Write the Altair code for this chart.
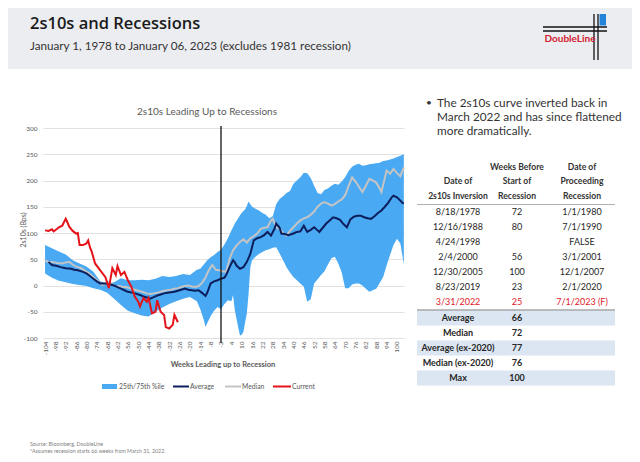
import altair as alt
import pandas as pd

# ---------------- data ----------------
band_weeks = [-104,-100,-96,-92,-88,-84,-80,-76,-72,-68,-64,-60,-56,-52,-48,-44,-40,-36,-32,-28,-24,-20,-16,-14,-12,-11,-10,-8,-6,-4,-2,0,2,4,5,6,8,9,10,11,12,13,14,15,16,18,20,22,24,26,28,30,32,34,36,38,40,42,44,46,48,50,52,54,56,58,60,62,64,66,68,70,72,74,76,78,80,82,84,86,88,90,92,94,96,98,100,102,104]
band_p75 = [77,71,65,59,48,42,36,26,8,4,6,14,10,10,11,10,13,18,16,18,22,20,30,32,40,44,48,54,58,64,68,78,90,105,111,118,128,134,138,142,145,152,160,155,150,146,143,138,135,128,132,155,165,170,176,180,194,200,206,215,214,205,190,176,174,182,185,190,194,192,198,206,218,226,230,232,228,229,231,232,233,234,237,238,240,242,245,247,250]
band_p25 = [23,15,9,6,3,1,-1,-5,-8,-14,-25,-37,-48,-53,-57,-59,-50,-42,-35,-30,-25,-22,-30,-45,-65,-79,-72,-58,-48,-41,-45,-35,-28,-30,-18,-47,-80,-95,-94,-88,-70,-53,-15,35,48,55,60,64,67,69,72,73,61,48,35,25,16,10,4,-2,-31,-26,4,12,20,27,40,52,55,42,25,-5,-5,2,4,4,0,-6,-12,-9,-6,5,16,38,58,77,89,80,40]

avg_weeks = [-102,-100,-97,-95,-92,-89,-87,-85,-82,-80,-78,-76,-74,-72,-69,-66,-64,-62,-60,-58,-56,-53,-51,-49,-47,-45,-43,-41,-39,-37,-35,-33,-31,-29,-27,-25,-23,-21,-19,-17,-15,-13,-11,-10,-8,-6,-4,-2,0,1,3,4,5,6,7,9,11,13,15,17,19,21,23,25,27,29,30,32,33,35,37,40,42,44,46,48,50,52,54,55,57,59,61,63,65,67,69,71,73,75,77,79,81,83,85,87,89,91,93,95,97,98,100,101,103,104]
avg_vals = [45,39,37,35,33,32,30,29,26,23,18,13,8,4,4,2,0,-3,-6,-9,-12,-14,-16,-18,-21,-23,-25,-22,-19,-17,-15,-14,-13,-12,-10,-8,-6,-8,-9,-10,-9,-14,-20,-14,4,8,10,13,15,20,35,42,48,44,38,32,35,45,60,86,90,92,96,102,95,108,118,110,99,98,96,99,102,103,114,102,106,111,105,102,110,118,124,130,128,125,117,111,126,131,133,133,130,128,127,132,138,143,150,158,168,171,168,165,158,156]

med_weeks = [-104,-102,-100,-97,-94,-92,-90,-88,-86,-83,-81,-79,-77,-75,-73,-71,-69,-67,-65,-63,-61,-59,-57,-55,-53,-51,-49,-47,-45,-43,-41,-39,-37,-35,-33,-31,-29,-27,-25,-23,-21,-19,-17,-15,-13,-11,-10,-8,-7,-5,-3,-1,1,3,5,7,9,11,13,15,17,19,21,23,25,27,28,30,32,34,36,38,40,42,44,46,48,50,52,54,56,58,60,62,64,66,68,70,72,74,76,78,80,82,84,86,88,90,91,93,94,96,98,100,102,104]
med_vals = [48,45,45,43,42,44,45,40,36,33,28,24,19,13,8,1,3,7,2,-2,-1,-3,-3,-5,-7,-9,-11,-13,-15,-16,-15,-14,-12,-10,-9,-8,-6,-5,-3,-1,0,-2,-3,-1,5,15,23,35,39,30,29,27,26,51,67,76,83,88,82,90,94,99,108,110,111,124,127,111,108,100,95,104,111,118,124,128,130,135,141,150,156,159,156,152,155,160,164,172,190,206,198,188,178,190,203,200,196,185,178,205,219,213,222,214,208,225]

cur_weeks = [-104,-102,-100,-99,-97,-96,-94,-93,-92,-91,-90,-88,-86,-85,-84,-82,-80,-79,-78,-77,-75,-72,-69,-67,-65,-63,-62,-60,-58,-56,-54,-52,-50,-49,-47,-45,-44,-42,-40,-39,-37,-35,-34,-32,-30,-29,-27]
cur_vals = [105,104,107,103,108,111,114,121,127,120,112,104,99,100,77,77,80,86,73,65,42,29,16,-5,33,20,37,20,26,10,-2,-21,-31,-40,-24,-31,-24,-53,-50,-28,-50,-56,-79,-82,-75,-56,-70]

inversion_week = [-2]
x_tick_values = list(range(-104, 101, 6))
y_tick_values = [-100, -50, 0, 50, 100, 150, 200, 250, 300]

legend_labels = ["25th/75th %ile", "Average", "Median", "Current"]

bullet_lines = ["The 2s10s curve inverted back in",
                "March 2022 and has since flattened",
                "more dramatically."]
inv_dates = ["8/18/1978", "12/16/1988", "4/24/1998", "2/4/2000", "12/30/2005", "8/23/2019", "3/31/2022"]
weeks_before = ["72", "80", "", "56", "100", "23", "25"]
rec_dates = ["1/1/1980", "7/1/1990", "FALSE", "3/1/2001", "12/1/2007", "2/1/2020", "7/1/2023 (F)"]
stat_labels = ["Average", "Median", "Average (ex-2020)", "Median (ex-2020)", "Max"]
stat_values = ["66", "72", "77", "76", "100"]

# ---------------- layout helpers ----------------
OX, OY = 43, 128      # page position of plot origin
W, H = 361, 210
PAGE_W, PAGE_H = 624, 446

def P(X):
    return X - OX

def Q(Y):
    return Y - OY

one = alt.Data(values=[{"k": 0}])

def txt(s, X, Y, size=9, color="#262626", weight="normal", align="left",
        font="Lato", angle=0):
    return alt.Chart(one).mark_text(
        text=s, fontSize=size, color=color, fontWeight=weight, align=align,
        baseline="middle", font=font, angle=angle
    ).encode(x=alt.value(P(X)), y=alt.value(Q(Y)))

def rect(x1, y1, x2, y2, color):
    return alt.Chart(one).mark_rect(color=color).encode(
        x=alt.value(P(x1)), x2=alt.value(P(x2)),
        y=alt.value(Q(y1)), y2=alt.value(Q(y2)))

def hline(x1, x2, y, color, w=1.0):
    return alt.Chart(one).mark_rule(color=color, strokeWidth=w).encode(
        x=alt.value(P(x1)), x2=alt.value(P(x2)), y=alt.value(Q(y)), y2=alt.value(Q(y)))

def vline(x, y1, y2, color, w=1.0):
    return alt.Chart(one).mark_rule(color=color, strokeWidth=w).encode(
        x=alt.value(P(x)), x2=alt.value(P(x)), y=alt.value(Q(y1)), y2=alt.value(Q(y2)))

# ---------------- chart layers ----------------
band_df = pd.DataFrame({"week": band_weeks, "p25": band_p25, "p75": band_p75})
avg_df = pd.DataFrame({"week": avg_weeks, "v": avg_vals})
med_df = pd.DataFrame({"week": med_weeks, "v": med_vals})
cur_df = pd.DataFrame({"week": cur_weeks, "v": cur_vals})

xs = alt.Scale(domain=[-105.2, 104.1], nice=False, zero=False)
ys = alt.Scale(domain=[-100, 300], nice=False, zero=False)

band = alt.Chart(band_df).mark_area(color="#49A9F3", opacity=1).encode(
    x=alt.X("week:Q", scale=xs, title=None,
            axis=alt.Axis(values=x_tick_values, tickCount=len(x_tick_values) + 5,
                          labelAngle=270, labelAlign="right",
                          labelBaseline="middle", labelFontSize=6.5, labelColor="#595959",
                          labelFont="Lato", domain=False, ticks=False, grid=False,
                          labelPadding=3, labelOverlap=False, labelSeparation=0,
                          labelExpr="'' + datum.value")),
    y=alt.Y("p25:Q", scale=ys, title=None,
            axis=alt.Axis(values=y_tick_values, tickCount=len(y_tick_values) + 2,
                          grid=True, gridColor="#D9D9D9",
                          gridWidth=0.8, domain=False, ticks=False, labelFontSize=6.5,
                          labelColor="#595959", labelFont="Lato", labelPadding=6,
                          labelOverlap=False, labelExpr="'' + datum.value")),
    y2="p75:Q",
)

med = alt.Chart(med_df).mark_line(color="#C4C4C4", strokeWidth=2).encode(
    x=alt.X("week:Q", title=None), y=alt.Y("v:Q", title=None))
avg = alt.Chart(avg_df).mark_line(color="#0C1E5B", strokeWidth=2).encode(
    x=alt.X("week:Q", title=None), y=alt.Y("v:Q", title=None))
cur = alt.Chart(cur_df).mark_line(color="#E5141B", strokeWidth=2).encode(
    x=alt.X("week:Q", title=None), y=alt.Y("v:Q", title=None))

vrule = alt.Chart(pd.DataFrame({"week": inversion_week})).mark_rule(
    color="#111111", strokeWidth=1.3).encode(
    x=alt.X("week:Q", title=None), y=alt.value(-2), y2=alt.value(H + 5))

layers = []
# header band & logo
layers.append(rect(8, 8, 632, 69, "#ECEDF1"))
layers.append(txt("2s10s and Recessions", 30, 24, size=16.5, weight=600,
                  font="Open Sans", color="#1A1A1A"))
layers.append(txt("January 1, 1978 to January 06, 2023 (excludes 1981 recession)",
                  30, 46, size=11.7, color="#333333"))
layers.append(hline(543, 607, 27, "#111111", 1.3))
layers.append(hline(543, 607, 31, "#111111", 1.3))
layers.append(vline(594, 14, 60, "#111111", 1.3))
layers.append(vline(598, 14, 60, "#111111", 1.3))
layers.append(rect(599.5, 14, 606, 25.5, "#2283D9"))
layers.append(txt("DoubleLine", 570, 39, size=10, weight="bold", color="#D1202F",
                  align="center"))

# chart
layers += [band, med, avg, cur, vrule]
layers.append(txt("2s10s Leading Up to Recessions", 207, 112, size=10, color="#595959",
                  align="center"))
layers.append(txt("2s10s (Bps)", 24, 230, size=7, color="#595959", align="center",
                  angle=270))
layers.append(txt("Weeks Leading up to Recession", 223, 365, size=7.5, color="#595959",
                  weight="bold", align="center"))
# legend
layers.append(rect(102, 384, 117, 389, "#49A9F3"))
layers.append(txt(legend_labels[0], 119, 386.5, size=6.8, color="#595959"))
layers.append(hline(173, 189, 386.5, "#0C1E5B", 2))
layers.append(txt(legend_labels[1], 190, 386.5, size=6.8, color="#595959"))
layers.append(hline(225, 241, 386.5, "#C4C4C4", 2))
layers.append(txt(legend_labels[2], 242, 386.5, size=6.8, color="#595959"))
layers.append(hline(273, 291, 386.5, "#E5141B", 2))
layers.append(txt(legend_labels[3], 292, 386.5, size=6.8, color="#595959"))

# bullet text
layers.append(txt("\u2022", 426, 103, size=10, color="#333333"))
for i, s in enumerate(bullet_lines):
    layers.append(txt(s, 437, 103 + 14 * i, size=11.8, color="#333333"))

# table header
C1, C2, C3 = 458, 517, 582
hdr = "#333333"
layers.append(txt("Date of", C1, 181, size=8.6, weight="bold", color=hdr, align="center"))
layers.append(txt("2s10s Inversion", C1, 196, size=8.6, weight="bold", color=hdr, align="center"))
layers.append(txt("Weeks Before", C2, 167, size=8.6, weight="bold", color=hdr, align="center"))
layers.append(txt("Start of", C2, 181, size=8.6, weight="bold", color=hdr, align="center"))
layers.append(txt("Recession", C2, 196, size=8.6, weight="bold", color=hdr, align="center"))
layers.append(txt("Date of", C3, 167, size=8.6, weight="bold", color=hdr, align="center"))
layers.append(txt("Proceeding", C3, 181, size=8.6, weight="bold", color=hdr, align="center"))
layers.append(txt("Recession", C3, 196, size=8.6, weight="bold", color=hdr, align="center"))
layers.append(hline(417, 615, 204.5, "#9A9A9A", 0.8))

# shaded summary rows
for i in range(0, 5, 2):
    yc = 318 + 15 * i
    layers.append(rect(417, yc - 7.5, 615, yc + 7.5, "#DCE6F2"))
layers.append(hline(417, 615, 310, "#7F7F7F", 1.2))

for i in range(len(inv_dates)):
    yc = 212 + 15 * i
    col = "#E0202A" if i == len(inv_dates) - 1 else "#262626"
    layers.append(txt(inv_dates[i], C1, yc, size=9, color=col, align="center"))
    if weeks_before[i]:
        layers.append(txt(weeks_before[i], C2, yc, size=9, color=col, align="center"))
    layers.append(txt(rec_dates[i], C3, yc, size=9, color=col, align="center"))

for i in range(len(stat_labels)):
    yc = 318 + 15 * i
    layers.append(txt(stat_labels[i], C1, yc, size=9, weight="bold", align="center"))
    layers.append(txt(stat_values[i], C2, yc, size=9, weight="bold", align="center"))

# footnotes
layers.append(txt("Source: Bloomberg, DoubleLine", 30, 444, size=5.3, color="#7F7F7F"))
layers.append(txt("*Assumes recession starts 66 weeks from March 31, 2022.", 30, 450.5,
                  size=5.3, color="#7F7F7F"))

chart = alt.layer(*layers).properties(
    width=W, height=H,
    autosize=alt.AutoSizeParams(type="none"),
    padding={"left": OX - 8, "top": OY - 8,
             "right": PAGE_W - (OX - 8) - W, "bottom": PAGE_H - (OY - 8) - H},
    background="white",
).configure_view(stroke=None).configure_axisX(labelOverlap=False, labelSeparation=0)

chart.save("out.html", embed_options={"renderer": "svg", "actions": False})
